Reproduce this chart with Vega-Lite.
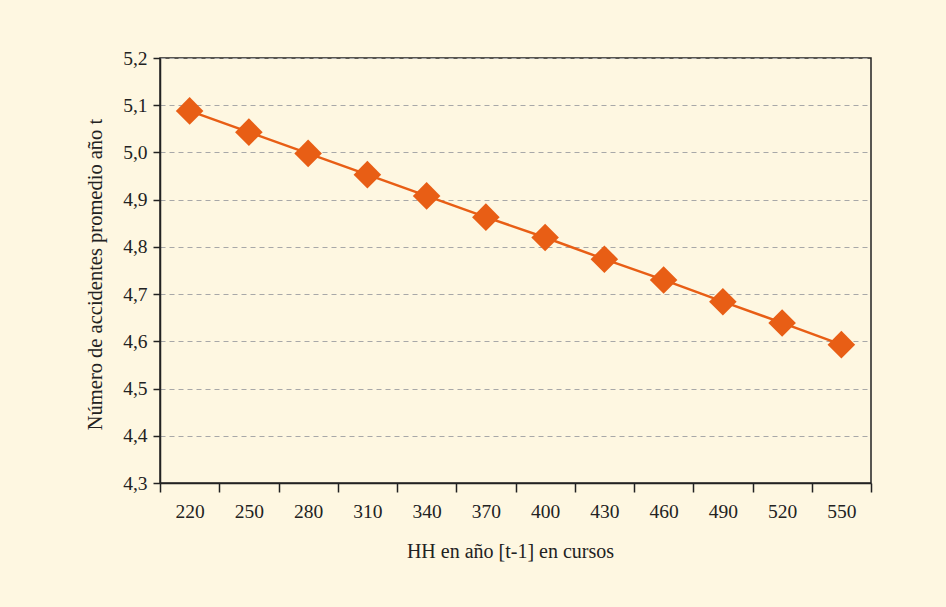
{
  "$schema": "https://vega.github.io/schema/vega-lite/v6.json",
  "autosize": {"type": "none"},
  "width": 711,
  "height": 425,
  "padding": {"left": 160, "top": 58, "right": 75, "bottom": 124},
  "background": "#FEF7E1",
  "config": {
    "view": {"stroke": "#222222", "strokeWidth": 1.5, "fill": "#FEF7E1"},
    "font": "Liberation Serif",
    "axis": {"labelFont": "Liberation Serif", "titleFont": "Liberation Serif", "labelColor": "#222222", "titleColor": "#222222", "titleFontWeight": "normal"}
  },
  "data": {
    "values": [
      {"hh": 220, "acc": 5.088},
      {"hh": 250, "acc": 5.043},
      {"hh": 280, "acc": 4.998},
      {"hh": 310, "acc": 4.953},
      {"hh": 340, "acc": 4.908},
      {"hh": 370, "acc": 4.863},
      {"hh": 400, "acc": 4.820},
      {"hh": 430, "acc": 4.774},
      {"hh": 460, "acc": 4.730},
      {"hh": 490, "acc": 4.684},
      {"hh": 520, "acc": 4.639},
      {"hh": 550, "acc": 4.593}
    ]
  },
  "encoding": {
    "x": {
      "field": "hh",
      "type": "ordinal",
      "bandPosition": 0.5,
      "scale": {"type": "band", "paddingInner": 0, "paddingOuter": 0},
      "axis": {
        "title": "HH en año [t-1] en cursos",
        "labelAngle": 0,
        "labelFontSize": 19.5,
        "labelPadding": 10,
        "tickBand": "extent",
        "tickSize": 9,
        "tickColor": "#222222",
        "domainColor": "#222222",
        "domainWidth": 1.5,
        "tickWidth": 1.5,
        "grid": false,
        "titleFontSize": 20,
        "titleX": 350,
        "titleY": 68,
        "titleBaseline": "middle"
      }
    },
    "y": {
      "field": "acc",
      "type": "quantitative",
      "scale": {"domain": [4.3, 5.2], "nice": false, "zero": false},
      "axis": {
        "title": "Número de accidentes promedio año t",
        "values": [4.3, 4.4, 4.5, 4.6, 4.7, 4.8, 4.9, 5.0, 5.1, 5.2],
        "labelExpr": "replace(format(datum.value, '.1f'), '.', ',')",
        "labelFontSize": 19.5,
        "labelPadding": 6,
        "tickSize": 7,
        "tickColor": "#222222",
        "tickWidth": 1.5,
        "domainColor": "#222222",
        "domainWidth": 1.5,
        "grid": true,
        "gridColor": "#A8A8A8",
        "gridDash": [5, 4],
        "gridWidth": 1.2,
        "titleFontSize": 20.5,
        "titleX": -65,
        "titleY": 216,
        "titleBaseline": "middle",
        "titleAlign": "center"
      }
    }
  },
  "layer": [
    {"mark": {"type": "line", "color": "#E85E15", "strokeWidth": 2.5}},
    {"mark": {"type": "point", "shape": "diamond", "filled": true, "size": 760, "color": "#E85E15", "opacity": 1}}
  ]
}
